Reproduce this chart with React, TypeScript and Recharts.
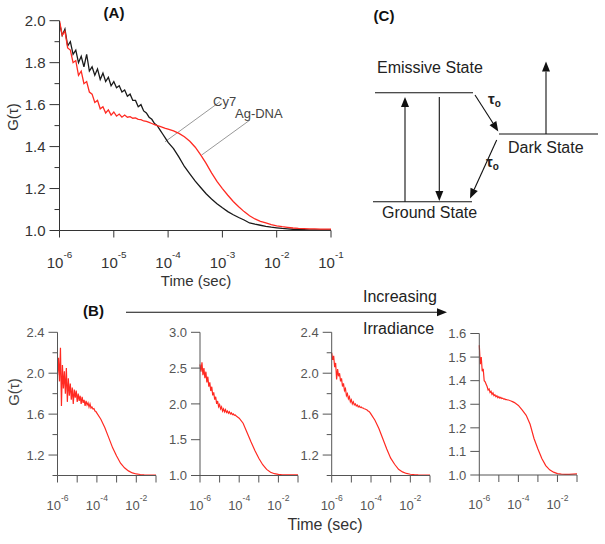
import React from 'react';
import { LineChart, Line, XAxis, YAxis, ReferenceLine } from 'recharts';

const FONT = '"Liberation Sans", Arial, Helvetica, sans-serif';
const RED = '#ff2a22';

// ---- Panel (A): log10(time) and G(tau) for both dyes ----
const aLogT = [
  -6, -5.95, -5.9, -5.85, -5.8, -5.75, -5.7, -5.65, -5.6, -5.55, -5.5, -5.45, -5.4, -5.35, -5.3, -5.25,
  -5.2, -5.15, -5.1, -5.05, -5, -4.95, -4.9, -4.85, -4.8, -4.75, -4.7, -4.65, -4.6, -4.55, -4.5, -4.45,
  -4.4, -4.35, -4.3, -4.25, -4.2, -4.15, -4.1, -4.05, -4,
  -3.9, -3.8, -3.7, -3.6, -3.5, -3.4, -3.3, -3.2, -3.1, -3, -2.9, -2.8, -2.7, -2.6, -2.5, -2.4, -2.3,
  -2.2, -2.1, -2, -1.9, -1.8, -1.7, -1.6, -1.5, -1.4, -1.3, -1.2, -1.1, -1,
];
const cy7 = [
  1.99, 1.93, 1.96, 1.88, 1.9, 1.84, 1.86, 1.8, 1.83, 1.78, 1.84, 1.76, 1.78, 1.74, 1.77, 1.72,
  1.75, 1.71, 1.73, 1.69, 1.71, 1.68, 1.69, 1.66, 1.67, 1.64, 1.65, 1.62, 1.62, 1.59, 1.6, 1.57,
  1.56, 1.54, 1.53, 1.51, 1.5, 1.48, 1.46, 1.44, 1.42,
  1.39, 1.35, 1.305, 1.27, 1.235, 1.205, 1.175, 1.15, 1.128, 1.108, 1.09, 1.075, 1.062, 1.05, 1.036,
  1.03, 1.025, 1.02, 1.016, 1.013, 1.01, 1.008, 1.006, 1.005, 1.004, 1.003, 1.003, 1.003, 1.003, 1.003,
];
const agDna = [
  2.0, 1.93, 1.95, 1.87, 1.86, 1.8, 1.81, 1.74, 1.76, 1.7, 1.71, 1.66, 1.65, 1.61, 1.62, 1.58,
  1.59, 1.56, 1.575, 1.55, 1.565, 1.545, 1.555, 1.54, 1.55, 1.54, 1.543, 1.535, 1.537, 1.53, 1.528, 1.522,
  1.52, 1.515, 1.51, 1.505, 1.5, 1.496, 1.492, 1.487, 1.483,
  1.475, 1.463, 1.447, 1.425, 1.397, 1.36, 1.32, 1.275, 1.234, 1.2, 1.168, 1.138, 1.113, 1.09, 1.07,
  1.055, 1.044, 1.036, 1.028, 1.022, 1.018, 1.015, 1.012, 1.01, 1.009, 1.008, 1.008, 1.007, 1.007, 1.007,
];

// ---- Panel (B): four irradiance levels ----
const bLogT = [
  -6, -5.95, -5.9, -5.85, -5.8, -5.75, -5.7, -5.65, -5.6, -5.55, -5.5, -5.45, -5.4, -5.35, -5.3, -5.25,
  -5.2, -5.15, -5.1, -5.05, -5, -4.95, -4.9, -4.85, -4.8, -4.75, -4.7, -4.65, -4.6, -4.55, -4.5, -4.45,
  -4.4, -4.35, -4.3, -4.25, -4.2, -4.15, -4.1, -4.05, -4,
  -3.8, -3.6, -3.4, -3.2, -3, -2.8, -2.6, -2.4, -2.2, -2, -1.8, -1.6, -1.4, -1.2, -1,
];
const b1 = [
  1.98, 2.15, 1.92, 2.25, 1.68, 2.08, 1.85, 2.02, 1.8, 2.05, 1.72, 1.95, 1.78, 1.9, 1.74, 1.86,
  1.7, 1.84, 1.76, 1.83, 1.72, 1.8, 1.73, 1.78, 1.7, 1.77, 1.71, 1.74, 1.68, 1.73, 1.69, 1.71,
  1.67, 1.7, 1.66, 1.67, 1.65, 1.655, 1.63, 1.625, 1.61,
  1.55, 1.47, 1.37, 1.27, 1.19, 1.12, 1.075, 1.045, 1.025, 1.015, 1.01, 1.007, 1.005, 1.005, 1.005,
];
const b2 = [
  2.55, 2.45, 2.58, 2.4, 2.5, 2.36, 2.45, 2.3, 2.38, 2.24, 2.3, 2.18, 2.24, 2.12, 2.16, 2.06,
  2.1, 2.0, 2.04, 1.96, 1.99, 1.93, 1.96, 1.9, 1.93, 1.89, 1.92, 1.88, 1.9, 1.87, 1.89, 1.86,
  1.875, 1.85, 1.86, 1.84, 1.845, 1.83, 1.82, 1.81, 1.8,
  1.73, 1.6, 1.47, 1.35, 1.24, 1.15, 1.085, 1.045, 1.025, 1.015, 1.01, 1.01, 1.01, 1.01, 1.01,
];
const b3 = [
  2.2, 2.13, 2.17, 2.06, 2.1, 1.94, 2.04, 1.97, 2.0, 1.92, 1.95, 1.87, 1.9, 1.83, 1.85, 1.78,
  1.8, 1.75, 1.77, 1.72, 1.74, 1.7, 1.72, 1.69, 1.7, 1.68, 1.69, 1.67, 1.68, 1.665, 1.67, 1.66,
  1.66, 1.652, 1.65, 1.645, 1.64, 1.63, 1.625, 1.615, 1.6,
  1.54, 1.46, 1.36, 1.26, 1.17, 1.11, 1.06, 1.035, 1.02, 1.012, 1.008, 1.006, 1.005, 1.005, 1.005,
];
const b4 = [
  1.55, 1.47, 1.5, 1.44, 1.45, 1.4, 1.395, 1.385, 1.375, 1.36, 1.365, 1.35, 1.355, 1.342, 1.348, 1.336,
  1.34, 1.332, 1.336, 1.328, 1.332, 1.326, 1.329, 1.324, 1.326, 1.322, 1.323, 1.32, 1.32, 1.318, 1.318, 1.316,
  1.315, 1.313, 1.311, 1.309, 1.307, 1.304, 1.301, 1.298, 1.295,
  1.275, 1.253, 1.215, 1.155, 1.11, 1.07, 1.04, 1.022, 1.012, 1.006, 1.004, 1.003, 1.003, 1.004, 1.005,
];

const decades = [-6, -5, -4, -3, -2, -1];
const aYTicks = [1.0, 1.1, 1.2, 1.3, 1.4, 1.5, 1.6, 1.7, 1.8, 1.9, 2.0];
const aYLabels = [1.0, 1.2, 1.4, 1.6, 1.8, 2.0];
const b13Ticks = [1.0, 1.2, 1.4, 1.6, 1.8, 2.0, 2.2, 2.4];
const b13Labels = [1.2, 1.6, 2.0, 2.4];
const b2Ticks = [1.0, 1.5, 2.0, 2.5, 3.0];
const b4Ticks = [1.0, 1.1, 1.2, 1.3, 1.4, 1.5, 1.6];
const bXLabels = [-6, -4, -2];

const aRows = aLogT.map((t, i) => ({ t, cy7: cy7[i], ag: agDna[i] }));
const bRows = bLogT.map((t, i) => ({ t, b1: b1[i], b2: b2[i], b3: b3[i], b4: b4[i] }));

const has = (arr: number[], v: number) => arr.some((a) => Math.abs(a - v) < 1e-9);

const yTick = (labels: number[], fs: number, color: string, axis: string, major: number, minor: number) => (p: any) => {
  const v = p.payload.value;
  const lab = has(labels, v);
  return (
    <g>
      <line x1={p.x} x2={p.x - (lab ? major : minor)} y1={p.y} y2={p.y} stroke={axis} strokeWidth={1} />
      {lab && (
        <text x={p.x - major - 4} y={p.y} dy="0.36em" textAnchor="end" fontSize={fs} fill={color} fontFamily={FONT}>
          {v.toFixed(1)}
        </text>
      )}
    </g>
  );
};

const xTick = (labels: number[], fs: number, color: string, axis: string, len: number, dy: number) => (p: any) => {
  const v = p.payload.value;
  const lab = has(labels, v);
  return (
    <g>
      <line x1={p.x} x2={p.x} y1={p.y} y2={p.y + len} stroke={axis} strokeWidth={1} />
      {lab && (
        <text x={p.x} y={p.y + dy} textAnchor="middle" fontSize={fs} fill={color} fontFamily={FONT}>
          <tspan>10</tspan>
          <tspan dy={-fs * 0.62} fontSize={fs * 0.66}>{v}</tspan>
        </text>
      )}
    </g>
  );
};

type Frame = { x0: number; y0: number; w: number; h: number; pl: number; pt: number; pr: number; pb: number };

function SmallPanel({ f, dataKey, domain, ticks, labels }: { f: Frame; dataKey: string; domain: number[]; ticks: number[]; labels: number[] }) {
  const axis = '#555';
  return (
    <div style={{ position: 'absolute', left: f.x0, top: f.y0 }}>
      <LineChart
        width={f.w}
        height={f.h}
        data={bRows}
        margin={{ top: f.pt - f.y0, right: f.x0 + f.w - f.pr, bottom: 0, left: 0 }}
      >
        <XAxis
          dataKey="t"
          type="number"
          domain={[-6, -1]}
          ticks={decades}
          interval={0}
          height={f.y0 + f.h - f.pb}
          tickSize={0}
          tickMargin={0}
          tickLine={false}
          axisLine={{ stroke: axis }}
          tick={xTick(bXLabels, 13, '#555', axis, 7, 34)}
        />
        <YAxis
          type="number"
          domain={domain}
          ticks={ticks}
          interval={0}
          allowDataOverflow
          width={f.pl - f.x0}
          tickSize={0}
          tickMargin={0}
          tickLine={false}
          axisLine={{ stroke: axis }}
          tick={yTick(labels, 13, '#555', axis, 9, 5)}
        />
        <Line dataKey={dataKey} stroke={RED} strokeWidth={1.2} dot={false} activeDot={false} isAnimationActive={false} type="linear" />
      </LineChart>
    </div>
  );
}

function Arrow({ x1, y1, x2, y2 }: { x1: number; y1: number; x2: number; y2: number }) {
  const a = Math.atan2(y2 - y1, x2 - x1);
  const L = 10;
  const W = 4;
  const bx = x2 - L * Math.cos(a);
  const by = y2 - L * Math.sin(a);
  const px = -Math.sin(a) * W;
  const py = Math.cos(a) * W;
  return (
    <g>
      <line x1={x1} y1={y1} x2={bx} y2={by} stroke="#111" strokeWidth={1.1} />
      <polygon points={`${x2},${y2} ${bx + px},${by + py} ${bx - px},${by - py}`} fill="#111" />
    </g>
  );
}

export default function App() {
  const aAxis = '#333';
  return (
    <div style={{ position: 'absolute', left: 0, top: 0, width: 605, height: 544, background: '#fff', fontFamily: FONT }}>
      {/* (A) */}
      <div style={{ position: 'absolute', left: 0, top: 0 }}>
        <LineChart width={345} height={290} data={aRows} margin={{ top: 20.7, right: 14, bottom: 0, left: 0 }}>
          <XAxis
            dataKey="t"
            type="number"
            domain={[-6, -1]}
            ticks={decades}
            interval={0}
            height={59.5}
            tickSize={0}
            tickMargin={0}
            tickLine={false}
            axisLine={{ stroke: aAxis }}
            tick={xTick(decades, 15, '#333', aAxis, 7, 37)}
          />
          <YAxis
            type="number"
            domain={[1, 2]}
            ticks={aYTicks}
            interval={0}
            allowDataOverflow
            width={59.5}
            tickSize={0}
            tickMargin={0}
            tickLine={false}
            axisLine={{ stroke: aAxis }}
            tick={yTick(aYLabels, 15, '#333', aAxis, 10, 5)}
          />
          <ReferenceLine segment={[{ x: -3.044, y: 1.614 }, { x: -4.057, y: 1.423 }]} stroke="#999" strokeWidth={1} />
          <ReferenceLine segment={[{ x: -2.49, y: 1.527 }, { x: -3.381, y: 1.36 }]} stroke="#999" strokeWidth={1} />
          <Line dataKey="cy7" stroke="#1a1a1a" strokeWidth={1.3} dot={false} activeDot={false} isAnimationActive={false} type="linear" />
          <Line dataKey="ag" stroke={RED} strokeWidth={1.3} dot={false} activeDot={false} isAnimationActive={false} type="linear" />
        </LineChart>
      </div>

      {/* (B) */}
      <SmallPanel f={{ x0: 0, y0: 320, w: 165, h: 200, pl: 57.5, pt: 332.3, pr: 156, pb: 475.5 }} dataKey="b1" domain={[1, 2.4]} ticks={b13Ticks} labels={b13Labels} />
      <SmallPanel f={{ x0: 160, y0: 320, w: 145, h: 200, pl: 200, pt: 332.3, pr: 298, pb: 475.5 }} dataKey="b2" domain={[1, 3]} ticks={b2Ticks} labels={b2Ticks} />
      <SmallPanel f={{ x0: 288, y0: 320, w: 152, h: 200, pl: 331.7, pt: 332.3, pr: 430, pb: 475.5 }} dataKey="b3" domain={[1, 2.4]} ticks={b13Ticks} labels={b13Labels} />
      <SmallPanel f={{ x0: 436, y0: 320, w: 154, h: 200, pl: 479.3, pt: 333.5, pr: 577, pb: 475 }} dataKey="b4" domain={[1, 1.6]} ticks={b4Ticks} labels={b4Ticks} />

      {/* labels, arrows and the state diagram (C) */}
      <svg width={605} height={544} style={{ position: 'absolute', left: 0, top: 0, pointerEvents: 'none' }} fontFamily={FONT}>
        <text x={114} y={18} textAnchor="middle" fontSize={15} fontWeight="bold" fill="#111">(A)</text>
        <text transform="translate(18,117) rotate(-90)" textAnchor="middle" fontSize={15} fill="#333">G(τ)</text>
        <text x={196} y={286} textAnchor="middle" fontSize={15} fill="#333">Time (sec)</text>
        <text x={213} y={106} fontSize={13} fill="#444">Cy7</text>
        <text x={235} y={118} fontSize={13} fill="#444">Ag-DNA</text>

        <text x={93.5} y={316} textAnchor="middle" fontSize={15} fontWeight="bold" fill="#111">(B)</text>
        <Arrow x1={126} y1={312.3} x2={447} y2={312.3} />
        <text x={363} y={302} fontSize={16} fill="#222">Increasing</text>
        <text x={363} y={334} fontSize={16} fill="#222">Irradiance</text>
        <text transform="translate(19,392) rotate(-90)" textAnchor="middle" fontSize={15} fill="#444">G(τ)</text>
        <text x={325} y={530} textAnchor="middle" fontSize={16} fill="#333">Time (sec)</text>

        <text x={384} y={21} textAnchor="middle" fontSize={15} fontWeight="bold" fill="#111">(C)</text>
        <text x={377} y={73} fontSize={16} fill="#222">Emissive State</text>
        <line x1={375} y1={92.7} x2={473} y2={92.7} stroke="#111" strokeWidth={1.1} />
        <line x1={373} y1={201.7} x2={472} y2={201.7} stroke="#111" strokeWidth={1.1} />
        <line x1={499} y1={134} x2={598} y2={134} stroke="#111" strokeWidth={1.1} />
        <text x={382} y={218} fontSize={16} fill="#222">Ground State</text>
        <text x={508} y={153} fontSize={16} fill="#222">Dark State</text>
        <Arrow x1={405} y1={201.7} x2={405} y2={97} />
        <Arrow x1={439.3} y1={97} x2={439.3} y2={201} />
        <Arrow x1={475} y1={95} x2={498.3} y2={131.5} />
        <Arrow x1={496.7} y1={140} x2={470} y2={198.5} />
        <Arrow x1={546} y1={134} x2={546} y2={61.5} />
        <text x={488} y={104} fontSize={15} fontWeight="bold" fill="#222">
          τ<tspan fontSize={10} dy={3}>o</tspan>
        </text>
        <text x={486} y={167} fontSize={15} fontWeight="bold" fill="#222">
          τ<tspan fontSize={10} dy={3}>o</tspan>
        </text>
      </svg>
    </div>
  );
}
